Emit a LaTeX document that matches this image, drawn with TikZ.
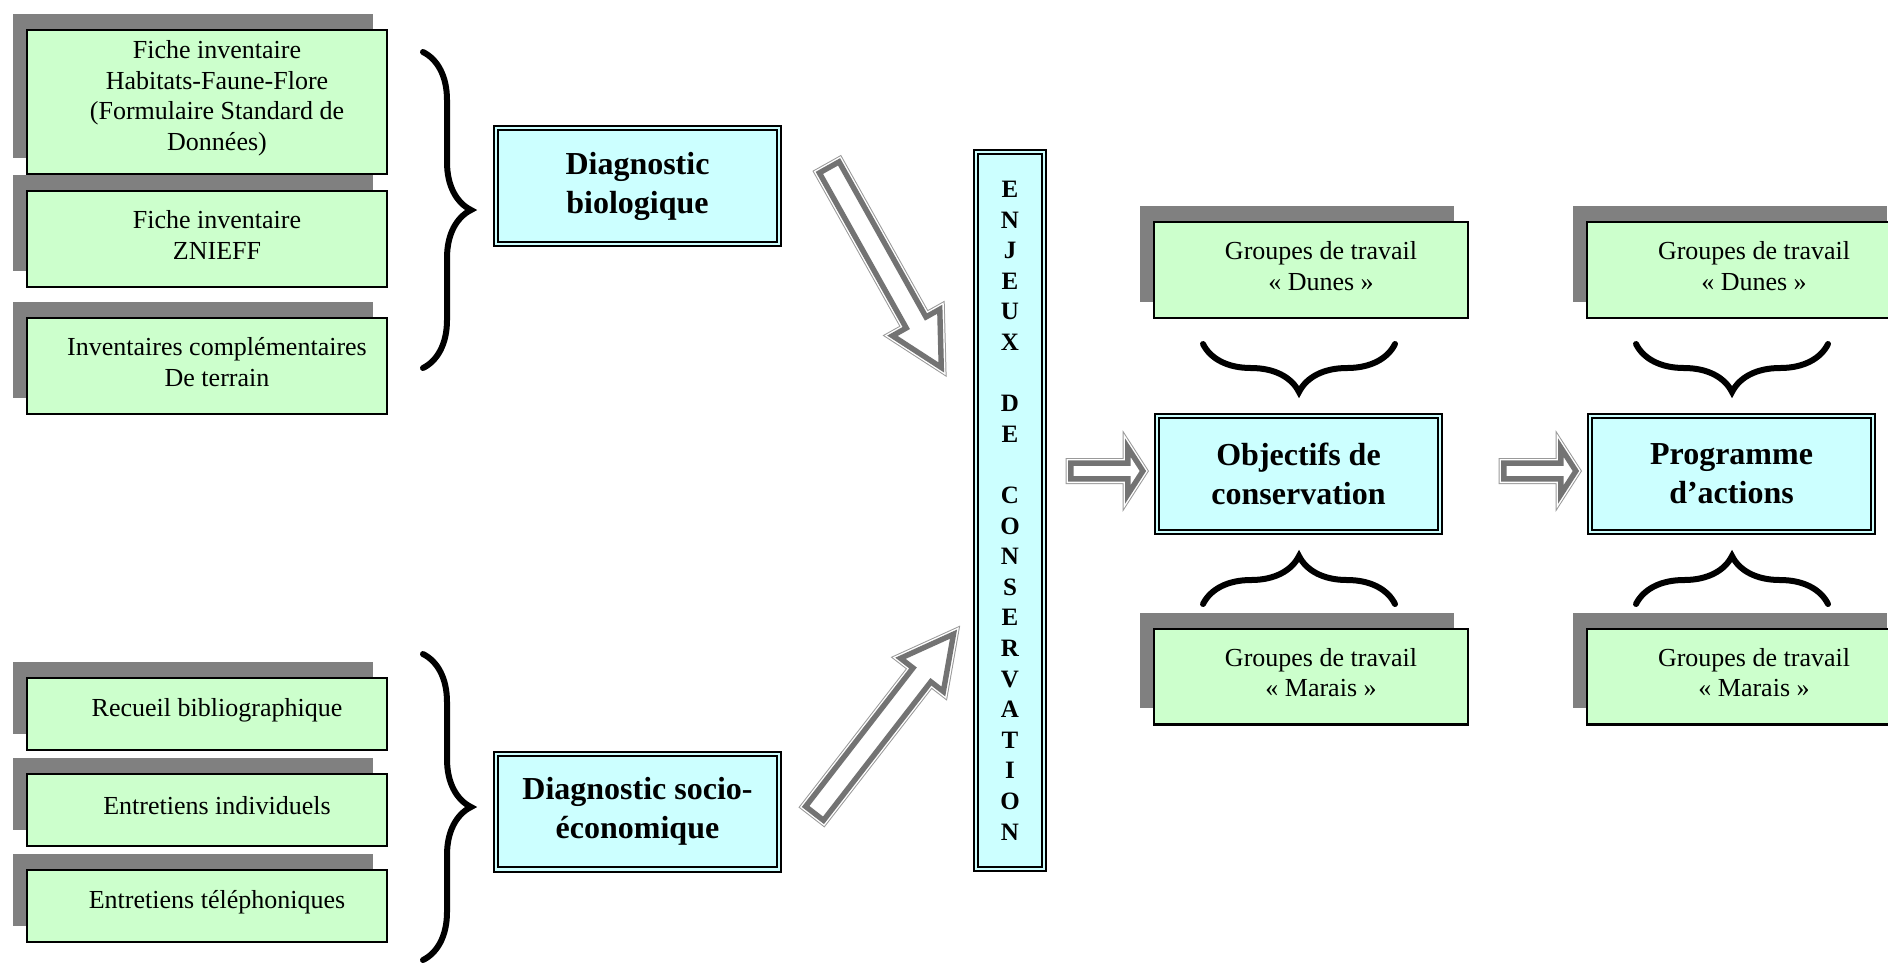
\documentclass[tikz,border=0pt]{standalone}
\usepackage{fontspec}
\setmainfont{Liberation Serif}
\usetikzlibrary{calc,shadows,decorations.pathreplacing}

\definecolor{vertpale}{HTML}{CCFFCC}
\definecolor{bleupale}{HTML}{CCFFFF}

% grosse fleche creuse : depart, arrivee, demi-tige, demi-tete, longueur tete (pt)
\newcommand\fatarrow[5]{%
  \path let \p1=($(#2)-(#1)$) in
    \pgfextra{\pgfmathsetmacro\faang{atan2(\y1,\x1)}\global\let\faang\faang
              \pgfmathsetmacro\falen{veclen(\x1,\y1)}\global\let\falen\falen};
  \begin{scope}[shift={(#1)}, rotate=\faang, x=1pt, y=1pt]
    \def\fapath{(0,-#3) -- (\falen-#5,-#3) -- (\falen-#5,-#4) -- (\falen,0)
      -- (\falen-#5,#4) -- (\falen-#5,#3) -- (0,#3) -- cycle}
    \fill[white] \fapath;
    \draw[black!40, line width=2.4pt] \fapath;
    \draw[white, line width=1.4pt] \fapath;
    \clip \fapath;
    \draw[black!55, line width=5.4pt] \fapath;
  \end{scope}}

\begin{document}
\begin{tikzpicture}[
    x=0.5pt, y=-0.5pt,
    fiche/.style={draw=black, line width=1.2pt, fill=vertpale, inner sep=0pt,
        drop shadow={shadow xshift=-7pt, shadow yshift=8pt, fill=black!50, opacity=1}},
    fichetxt/.style={align=center, inner sep=0pt, font=\fontsize{13}{15.25}\selectfont},
    diag/.style={draw=black, line width=1pt, double=bleupale, double distance=1.1pt,
        fill=bleupale, inner sep=0pt, align=center, minimum width=141.4pt, minimum height=57.9pt,
        font=\bfseries\fontsize{16}{19.5}\selectfont},
    accolade/.style={decorate, decoration={brace, amplitude=24pt}, line width=3pt, line cap=round}
]
    \useasboundingbox (0,0) rectangle (1888,966);

    % --- Inventaires ---
    \node[fiche, minimum width=179.8pt, minimum height=71.8pt] (fsd) at (207,102) {};
    \node[fiche, minimum width=179.8pt, minimum height=47.8pt] (znieff) at (207,239) {};
    \node[fiche, minimum width=179.8pt, minimum height=47.8pt] (terrain) at (207,366) {};
    \node[fichetxt] (fsd-t) at ($(fsd)+(10,-4)$) {Fiche inventaire\\Habitats-Faune-Flore\\(Formulaire Standard de\\Données)};
    \node[fichetxt] (znieff-t) at ($(znieff)+(10,-4)$) {Fiche inventaire\\ZNIEFF};
    \node[fichetxt] (terrain-t) at ($(terrain)+(10,-4)$) {Inventaires complémentaires\\De terrain};
    \draw[accolade] (423,52) -- (423,368);

    % --- Enquetes ---
    \node[fiche, minimum width=179.8pt, minimum height=35.8pt] (biblio) at (207,714) {};
    \node[fiche, minimum width=179.8pt, minimum height=35.8pt] (indiv) at (207,810) {};
    \node[fiche, minimum width=179.8pt, minimum height=35.8pt] (tel) at (207,906) {};
    \node[fichetxt] (biblio-t) at ($(biblio)+(10,-4)$) {Recueil bibliographique};
    \node[fichetxt] (indiv-t) at ($(indiv)+(10,-4)$) {Entretiens individuels};
    \node[fichetxt] (tel-t) at ($(tel)+(10,-4)$) {Entretiens téléphoniques};
    \draw[accolade] (423,654) -- (423,960);

    % --- Diagnostics ---
    \node[diag] (bio) at (637.5,186) {Diagnostic\\biologique};
    \node[diag] (socio) at (637.5,811.5) {Diagnostic socio-\\économique};

    % --- Enjeux ---
    \node[diag, minimum width=33.9pt, minimum height=358.4pt,
          font=\bfseries\fontsize{12.5}{15.3}\selectfont] (enjeux) at (1010,510.5)
        {E\\N\\J\\E\\U\\X\\[15.3pt]D\\E\\[15.3pt]C\\O\\N\\S\\E\\R\\V\\A\\T\\I\\O\\N};

    \coordinate (bio-out) at ($(bio.east)+(48,-21)$);
    \coordinate (enj-haut) at ($(enjeux.west)+(-31,-138)$);
    \coordinate (socio-out) at ($(socio.east)+(33,4)$);
    \coordinate (enj-bas) at ($(enjeux.west)+(-18,119)$);
    \fatarrow{bio-out}{enj-haut}{7}{15.8}{30}
    \fatarrow{socio-out}{enj-bas}{7}{15.8}{30}

    % --- Objectifs ---
    \node[diag] (obj) at (1298.5,474) {Objectifs de\\conservation};
    \node[fiche, minimum width=156.8pt, minimum height=47.8pt] (dunes1) at (1311,270) {};
    \node[fiche, minimum width=156.8pt, minimum height=47.8pt] (marais1) at (1311,676.5) {};
    \node[fichetxt] (dunes1-t) at ($(dunes1)+(10,-4)$) {Groupes de travail\\« Dunes »};
    \node[fichetxt] (marais1-t) at ($(marais1)+(10,-4)$) {Groupes de travail\\« Marais »};
    \draw[accolade] (1395,344) -- (1203,344);
    \draw[accolade] (1203,604) -- (1395,604);
    \coordinate (obj-a) at ($(obj.west)+(-88,-3)$);
    \coordinate (obj-b) at ($(obj.west)+(-10,-3)$);
    \fatarrow{obj-a}{obj-b}{5.3}{16.3}{10.5}

    % --- Programme ---
    \node[diag] (prog) at (1731.5,474) {Programme\\d’actions};
    \node[fiche, minimum width=156.8pt, minimum height=47.8pt] (dunes2) at (1744,270) {};
    \node[fiche, minimum width=156.8pt, minimum height=47.8pt] (marais2) at (1744,676.5) {};
    \node[fichetxt] (dunes2-t) at ($(dunes2)+(10,-4)$) {Groupes de travail\\« Dunes »};
    \node[fichetxt] (marais2-t) at ($(marais2)+(10,-4)$) {Groupes de travail\\« Marais »};
    \draw[accolade] (1828,344) -- (1636,344);
    \draw[accolade] (1636,604) -- (1828,604);
    \coordinate (prog-a) at ($(prog.west)+(-88,-3)$);
    \coordinate (prog-b) at ($(prog.west)+(-10,-3)$);
    \fatarrow{prog-a}{prog-b}{5.3}{16.3}{10.5}

\end{tikzpicture}
\end{document}
